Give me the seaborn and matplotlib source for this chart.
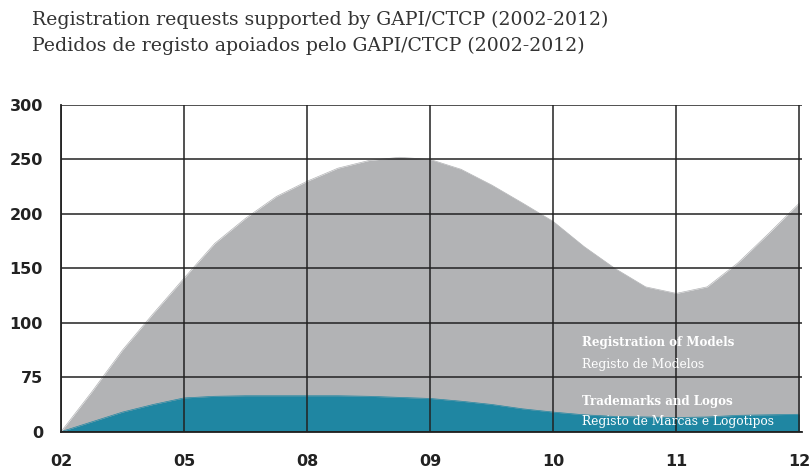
import pandas as pd
import matplotlib
matplotlib.use('Agg')
import matplotlib.pyplot as plt
import seaborn as sns

# Anos (eixo x) e posicoes
anos = ['02', '05', '08', '09', '10', '11', '12']
posicoes = [0, 0.25, 0.5, 0.75, 1, 1.25, 1.5, 1.75, 2, 2.25, 2.5, 2.75,
            3, 3.25, 3.5, 3.75, 4, 4.25, 4.5, 4.75, 5, 5.25, 5.5, 5.75, 6]

# Registo de Modelos (area cinzenta)
modelos = [0, 36.5, 75, 108.5, 141, 173, 196, 216, 230, 242, 249, 252,
           250, 241, 226.5, 210, 193, 170, 150, 133, 127, 133, 155, 182, 210]

# Registo de Marcas e Logotipos (area azul)
marcas = [0, 9, 18, 25, 31, 32.5, 33, 33, 33, 33, 32.5, 31.5,
          30.5, 28, 25, 21, 18, 15.5, 14, 13.5, 13, 13.5, 15, 15.5, 16]

ytick_vals = [0, 50, 100, 150, 200, 250, 300]
ytick_txt = ['0', '75', '100', '150', '200', '250', '300']

df = pd.DataFrame({'pos': posicoes, 'modelos': modelos, 'marcas': marcas})

sns.set_style('white')
plt.rcParams['font.family'] = ['DejaVu Sans']

cinza = '#b2b3b5'
azul = '#1f86a2'

fig = plt.figure(figsize=(8.1, 4.68), dpi=100)
ax = fig.add_axes([0.0753, 0.0776, 0.9147, 0.698])

ax.fill_between(df['pos'], df['modelos'], color=cinza, lw=0, zorder=1)
ax.fill_between(df['pos'], df['marcas'], color=azul, lw=0, zorder=2)
sns.lineplot(data=df, x='pos', y='modelos', color=cinza, lw=0.5, ax=ax, zorder=1)
sns.lineplot(data=df, x='pos', y='marcas', color=azul, lw=0.5, ax=ax, zorder=2)

ax.set_xlim(0, 6.02)
ax.set_ylim(0, 300)
ax.set_xticks(range(len(anos)))
ax.set_xticklabels(anos)
ax.set_yticks(ytick_vals)
ax.set_yticklabels(ytick_txt)
ax.set_xlabel('')
ax.set_ylabel('')

ax.set_axisbelow(False)
ax.grid(True, color='#222222', lw=1.1, zorder=3)
for s in ['top', 'right']:
    ax.spines[s].set_visible(False)
for s in ['left', 'bottom']:
    ax.spines[s].set_color('#222222')
    ax.spines[s].set_linewidth(1.3)
    ax.spines[s].set_zorder(4)

ax.tick_params(axis='both', length=0, labelsize=11.5, colors='#222222')
ax.tick_params(axis='x', pad=16)
ax.tick_params(axis='y', pad=13)
for lbl in ax.get_xticklabels() + ax.get_yticklabels():
    lbl.set_fontweight('bold')

# Titulo em duas linhas
fig.text(0.04, 0.978, 'Registration requests supported by GAPI/CTCP (2002-2012)',
         fontsize=13.6, family='DejaVu Serif', color='#333333', va='top')
fig.text(0.04, 0.921, 'Pedidos de registo apoiados pelo GAPI/CTCP (2002-2012)',
         fontsize=13.6, family='DejaVu Serif', color='#333333', va='top')

# Rotulos das areas
ax.text(0.703, 0.2715, 'Registration of Models', transform=ax.transAxes,
        color='white', fontsize=8.6, family='DejaVu Serif', fontweight='bold', va='center', zorder=5)
ax.text(0.703, 0.207, 'Registo de Modelos', transform=ax.transAxes,
        color='white', fontsize=8.8, family='DejaVu Serif', va='center', zorder=5)
ax.text(0.703, 0.091, 'Trademarks and Logos', transform=ax.transAxes,
        color='white', fontsize=8.6, family='DejaVu Serif', fontweight='bold', va='center', zorder=5)
ax.text(0.703, 0.030, 'Registo de Marcas e Logotipos', transform=ax.transAxes,
        color='white', fontsize=8.8, family='DejaVu Serif', va='center', zorder=5)

plt.savefig('out.png', dpi=100)
